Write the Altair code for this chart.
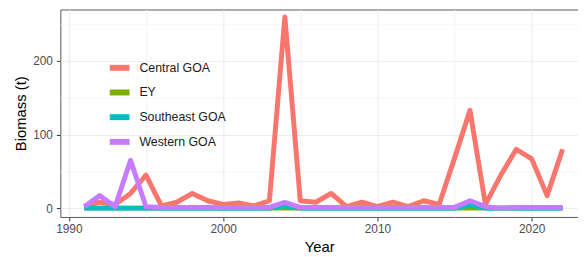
import altair as alt
import pandas as pd

years = list(range(1991, 2023))
central_goa = [2, 8, 5, 20, 45, 3, 8, 20, 10, 5, 7, 3, 10, 260, 10, 8,
               20, 2, 8, 2, 8, 2, 10, 5, 68, 133, 5, 45, 80, 67, 17, 80]
ey = [0] * 32
southeast_goa = [0, 0, 0, 0, 0, 0, 0, 0, 0, 0, 0, 0, 0, 3, 0, 0,
                 0, 0, 0, 0, 0, 0, 0, 0, 0, 4, 0, 0, 0, 0, 0, 0]
western_goa = [2, 17, 2, 65, 2, 1, 1, 1, 1, 1, 1, 1, 1, 8, 1, 1,
               1, 1, 1, 1, 1, 1, 1, 1, 1, 10, 2, 0, 1, 1, 1, 1]

series = {
    "Central GOA": central_goa,
    "EY": ey,
    "Southeast GOA": southeast_goa,
    "Western GOA": western_goa,
}
rows = []
for name, vals in series.items():
    for y, v in zip(years, vals):
        rows.append({"Year": y, "Biomass": v, "Region": name})
df = pd.DataFrame(rows)

names = list(series.keys())
colors = ["#F8766D", "#7CAE00", "#00BFC4", "#C77CFF"]

font = "Liberation Sans"

x_axis = alt.Axis(
    values=[1990, 1995, 2000, 2005, 2010, 2015, 2020],
    labelExpr="datum.value % 10 === 0 ? datum.label : ''",
    format="d",
    domain=False,
    gridColor={"condition": {"test": "datum.value % 10 === 0", "value": "#EBEBEB"}, "value": "#F4F4F4"},
    tickColor={"condition": {"test": "datum.value % 10 === 0", "value": "#333333"}, "value": "rgba(0,0,0,0)"},
    tickSize=4,
    labelPadding=3,
    labelColor="#4D4D4D",
    labelFontSize=12,
    labelFont=font,
    title="Year",
    titleFont=font,
    titleFontSize=15,
    titleFontWeight="normal",
    titleColor="#000000",
    titlePadding=5,
)
y_axis = alt.Axis(
    values=[0, 50, 100, 150, 200, 250],
    labelExpr="datum.value % 100 === 0 ? datum.label : ''",
    domain=False,
    gridColor={"condition": {"test": "datum.value % 100 === 0", "value": "#EBEBEB"}, "value": "#F4F4F4"},
    tickColor={"condition": {"test": "datum.value % 100 === 0", "value": "#333333"}, "value": "rgba(0,0,0,0)"},
    tickSize=4,
    labelPadding=4,
    labelColor="#4D4D4D",
    labelFontSize=12,
    labelFont=font,
    title="Biomass (t)",
    titleFont=font,
    titleFontSize=15,
    titleFontWeight="normal",
    titleColor="#000000",
    titlePadding=4,
)

chart = alt.Chart(df).mark_line(strokeWidth=5, strokeJoin="round").encode(
    x=alt.X("Year:Q", scale=alt.Scale(domain=[1989.45, 2023.0], nice=False, zero=False), axis=x_axis),
    y=alt.Y("Biomass:Q", scale=alt.Scale(domain=[-12, 270], nice=False), axis=y_axis),
    color=alt.Color(
        "Region:N",
        scale=alt.Scale(domain=names, range=colors),
        legend=alt.Legend(
            orient="none",
            legendX=47,
            legendY=46,
            title=None,
            symbolType="stroke",
            symbolSize=400,
            symbolStrokeWidth=6,
            labelFont=font,
            labelFontSize=12.5,
            labelColor="#1A1A1A",
            labelOffset=7,
            rowPadding=-2,
        ),
    ),
    order=alt.Order("Region:N"),
).properties(
    width=524,
    height=210,
    autosize=alt.AutoSizeParams(type="none"),
    padding={"left": 53, "top": 0, "right": 0, "bottom": 38},
).configure_view(
    stroke="#555555", strokeWidth=1
)

chart.save("out.html", embed_options={"renderer": "svg", "actions": False})
